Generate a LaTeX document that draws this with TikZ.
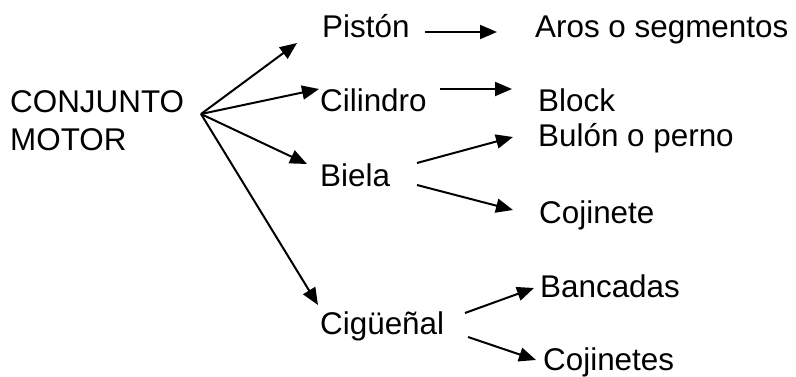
\documentclass[tikz,border=0pt]{standalone}
\usepackage{fontspec}
\setmainfont{Liberation Sans}
\usetikzlibrary{arrows.meta}
\begin{document}
\begin{tikzpicture}[x=1pt,y=-1pt,
  lbl/.style={anchor=base west,inner sep=0pt,font=\fontsize{31.4}{38}\selectfont},
  arr/.style={line width=2pt,-{Triangle[length=17pt,width=14pt]}}]
\useasboundingbox (0,0) rectangle (796,377);
% labels
\node[lbl,align=left] (motor) at (10,151) {CONJUNTO\\MOTOR};
\node[lbl] (pis) at (322,38) {Pistón};
\node[lbl] (cil) at (320,112) {Cilindro};
\node[lbl] (bie) at (320,187) {Biela};
\node[lbl] (cig) at (320,334) {Cigüeñal};
\node[lbl] (aro) at (535,38) {Aros o segmentos};
\node[lbl] (blo) at (538,112) {Block};
\node[lbl] (bul) at (538,147) {Bulón o perno};
\node[lbl] (coj) at (539,223) {Cojinete};
\node[lbl] (ban) at (540,298) {Bancadas};
\node[lbl] (cjs) at (543,370) {Cojinetes};
% connector end points
\coordinate (hub) at (201,114);
\coordinate (pisIn) at (297,43);
\coordinate (cilIn) at (319,89);
\coordinate (bieIn) at (307,164);
\coordinate (cigIn) at (318,305);
\coordinate (pisOut) at (425,32);
\coordinate (aroIn) at (497,32);
\coordinate (cilOut) at (440,89);
\coordinate (bloIn) at (512,89);
\coordinate (bieOutA) at (417,163);
\coordinate (bulIn) at (513,137);
\coordinate (bieOutB) at (417,185);
\coordinate (cojIn) at (513,210);
\coordinate (cigOutA) at (465,313);
\coordinate (banIn) at (534,288);
\coordinate (cigOutB) at (468,337);
\coordinate (cjsIn) at (536,360);
% connectors
\draw[arr] (hub) -- (pisIn);
\draw[arr] (hub) -- (cilIn);
\draw[arr] (hub) -- (bieIn);
\draw[arr] (hub) -- (cigIn);
\draw[arr] (pisOut) -- (aroIn);
\draw[arr] (cilOut) -- (bloIn);
\draw[arr] (bieOutA) -- (bulIn);
\draw[arr] (bieOutB) -- (cojIn);
\draw[arr] (cigOutA) -- (banIn);
\draw[arr] (cigOutB) -- (cjsIn);
\end{tikzpicture}
\end{document}
